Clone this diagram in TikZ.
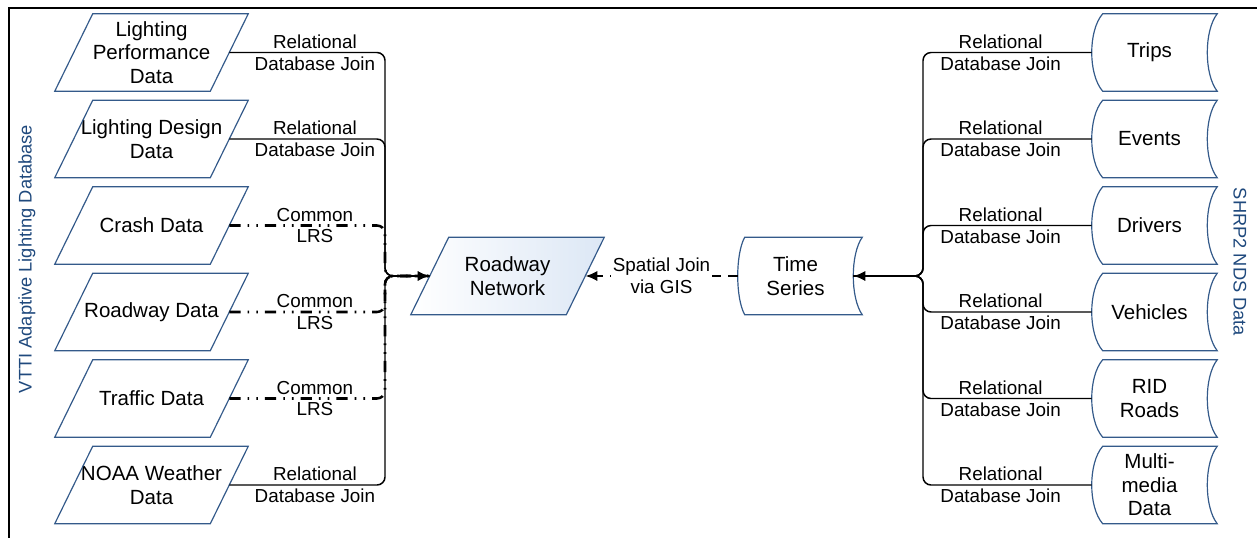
\documentclass[tikz,border=0pt]{standalone}
\usepackage{fontspec}
\setmainfont{Liberation Sans}
\usetikzlibrary{arrows.meta}
\usetikzlibrary{backgrounds}
\usetikzlibrary{positioning}
\usetikzlibrary{calc}
\definecolor{shapeblue}{RGB}{52,90,138}
\definecolor{titleblue}{RGB}{31,73,125}
\definecolor{lightfill}{RGB}{220,231,245}
\tikzset{slantbox/.style={rectangle, minimum width=3.875cm, minimum height=1.925cm, align=center, inner sep=0pt, font=\fontsize{14.6}{16.7}\selectfont},
storebox/.style={rectangle, minimum width=2.875cm, minimum height=1.925cm, align=center, inner sep=0pt, font=\fontsize{14.6}{16.7}\selectfont},
joinlabel/.style={align=center, inner sep=0pt, font=\fontsize{13.4}{15.6}\selectfont},
reljoin/.style={line width=1.05pt, rounded corners=0.2cm},
lrsjoin/.style={line width=1.8pt, rounded corners=0.2cm, dash pattern=on 8pt off 5pt on 1.2pt off 5pt on 1.2pt off 5pt},
joinarrow/.style={line width=2pt, -{Latex[length=0.3cm,width=0.26cm]}},
sidetitle/.style={text=titleblue, font=\fontsize{13}{15}\selectfont}}
\newcommand{\slantoutline}[2][]{\draw[shapeblue, line width=0.85pt, #1] ($(#2.north west)+(0.475,0)$) -- ($(#2.north east)+(0.475,0)$) -- ($(#2.south east)-(0.475,0)$) -- ($(#2.south west)-(0.475,0)$) -- cycle;}
\newcommand{\storedoutline}[3]{\draw[shapeblue, line width=0.85pt] ($(#1.north west)+(#2,0)$) .. controls ($(#1.west)+(-#2/3,0.55)$) and ($(#1.west)+(-#2/3,-0.55)$) .. ($(#1.south west)+(#2,0)$) -- ($(#1.south east)+(#3,0)$) .. controls ($(#1.east)+(-#3/3,-0.55)$) and ($(#1.east)+(-#3/3,0.55)$) .. ($(#1.north east)+(#3,0)$) -- cycle;}

\begin{document}
\begin{tikzpicture}
\useasboundingbox (0,0) rectangle (31.425,-13.45);
\draw[line width=1.4pt] (0.225,-13.45) -- (0.225,-0.2) -- (31.425,-0.2);

\node (rn) at (12.6875,-6.9) [slantbox] {Roadway\\Network};
\begin{scope}[on background layer]
\slantoutline[left color=white, right color=lightfill]{rn}
\end{scope}
\node (ts) at (19.8875,-6.9) [storebox] {Time\\Series};
\storedoutline{ts}{0.175}{0.225}
\coordinate (lbus) at (9.625,-6.9);
\coordinate (rbus) at (23.075,-6.9);
\coordinate (lhead) at ($(lbus)+(0.2,0)$);
\coordinate (rhead) at ($(rbus)-(0.2,0)$);

\foreach \i/\t/\s/\l in {1/{Lighting\\Performance\\Data}/reljoin/{Relational\\Database Join}, 2/{Lighting Design\\Data}/reljoin/{Relational\\Database Join}, 3/{Crash Data}/lrsjoin/{Common\\LRS}, 4/{Roadway Data}/lrsjoin/{Common\\LRS}, 5/{Traffic Data}/lrsjoin/{Common\\LRS}, 6/{NOAA Weather\\Data}/reljoin/{Relational\\Database Join}} {
\node (ld\i) at (3.7875,{-1.3125-2.1625*(\i-1)}) [slantbox] {\t};
\slantoutline{ld\i}
\draw[\s] (ld\i.east) -- node[joinlabel, pos=0.55] {\l} (ld\i.east -| lbus) -- (lbus) -- (rn.west);
}

\foreach \i/\t in {1/Trips, 2/Events, 3/Drivers, 4/Vehicles, 5/{RID\\Roads}, 6/{Multi-\\media\\Data}} {
\node (sd\i) at (28.7375,{-1.3125-2.1625*(\i-1)}) [storebox] {\t};
\storedoutline{sd\i}{0.275}{0.25}
\draw[reljoin] (sd\i.west) -- node[joinlabel, pos=0.54] {Relational\\Database Join} (sd\i.west -| rbus) -- (rbus) -- (ts.east);
}

\draw[joinarrow] (lhead) -- (rn.west);
\draw[joinarrow] (rhead) -- (ts.east);
\draw[joinarrow, line width=1.8pt, dash pattern=on 7pt off 5pt] (ts.west) -- node[joinlabel, fill=white, inner sep=1pt] {Spatial Join\\via GIS} (rn.east);

\node (lefttitle) at (0.675,-6.475) [sidetitle, rotate=90] {VTTI Adaptive Lighting Database};
\node (righttitle) at (31,-6.55) [sidetitle, rotate=-90] {SHRP2 NDS Data};
\end{tikzpicture}
\end{document}
